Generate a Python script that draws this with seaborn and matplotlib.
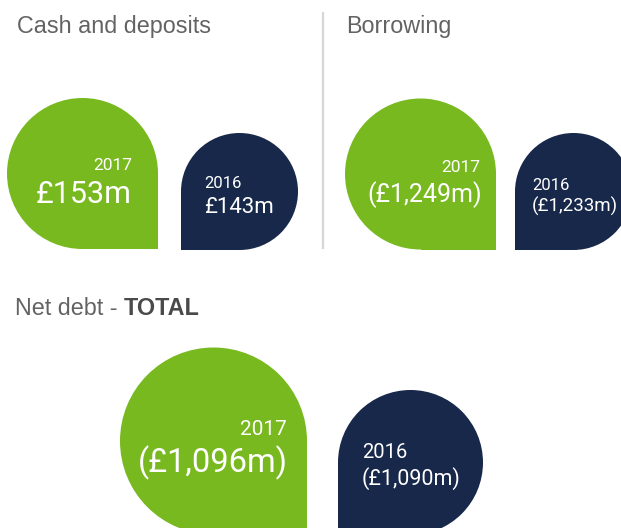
import matplotlib
matplotlib.use("Agg")
import matplotlib.pyplot as plt
from matplotlib.patches import Circle, Rectangle
import seaborn as sns

# ---- data ----
panel_titles = ["Cash and deposits", "Borrowing", "Net debt - "]
panel_title_bold = ["", "", "TOTAL"]
years = ["2017", "2016"]
cash_values = [153, 143]          # £m
borrowing_values = [-1249, -1233] # £m (negative shown in brackets)
net_debt_values = [-1096, -1090]  # £m

def fmt(v):
    s = "£{:,}m".format(abs(v))
    return "({})".format(s) if v < 0 else s

sns.set_theme(style="white")
plt.rcParams["font.family"] = ["Liberation Sans", "DejaVu Sans"]

GREEN = "#78b91f"
NAVY = "#17284a"
TITLE_C = "#636363"

fig = plt.figure(figsize=(6.21, 5.28), dpi=100)
ax = fig.add_axes([0, 0, 1, 1])
ax.set_xlim(0, 621)
ax.set_ylim(528, 0)
ax.set_axis_off()

def drop(cx, cy, r, color, corner):
    ax.add_patch(Circle((cx, cy), r, color=color, lw=0, ec="none"))
    x0 = cx if corner == "right" else cx - r
    ax.add_patch(Rectangle((x0, cy), r, r, color=color, lw=0, ec="none"))

# layout: (cx, cy, r) for 2017 (green) and 2016 (navy) per panel
layout = [
    dict(g=(82.5, 173.5, 75.5), n=(239.5, 191.5, 58.5),
         gy=(132, 170, 12.5), gv=(132, 203, 22),
         ny=(204, 188, 12), nv=(204, 213, 16)),
    dict(g=(420.5, 174, 75.5), n=(573.5, 191.5, 58.5),
         gy=(480, 172, 12.5), gv=(482, 202, 18),
         ny=(532, 190, 12), nv=(532, 212, 13.5)),
    dict(g=(213.5, 441, 93.5), n=(410.5, 462.5, 72.5),
         gy=(287, 435, 15), gv=(288, 472, 23.5),
         ny=(362, 458, 14.5), nv=(362, 485, 15.5)),
]
all_values = [cash_values, borrowing_values, net_debt_values]

TK = dict(color="white", va="baseline", family="Roboto", fontweight="normal")
for lay, vals in zip(layout, all_values):
    drop(*lay["g"], GREEN, "right")
    drop(*lay["n"], NAVY, "left")
    x, y, s = lay["gy"]
    ax.text(x, y, years[0], fontsize=s, ha="right", **TK)
    x, y, s = lay["gv"]
    ax.text(x, y, fmt(vals[0]), fontsize=s, ha="right", **TK)
    x, y, s = lay["ny"]
    ax.text(x, y, years[1], fontsize=s, ha="left", **TK)
    x, y, s = lay["nv"]
    ax.text(x, y, fmt(vals[1]), fontsize=s, ha="left", **TK)

# titles
title_pos = [(17, 33), (346, 33), (15, 315)]
for (x, y), t, b in zip(title_pos, panel_titles, panel_title_bold):
    tt = ax.text(x, y, t, color=TITLE_C, fontsize=16.8, ha="left", va="baseline")
    if b:
        ax.annotate(b, xy=(1, 0), xycoords=tt, xytext=(0, 0), textcoords="offset points",
                    color="#4a4a4a", fontsize=16.8, fontweight="bold", ha="left", va="bottom")

# divider
ax.plot([323, 323], [12, 249], color="#d6d6d6", lw=1.6, solid_capstyle="butt")

fig.savefig("out.png", dpi=100)
